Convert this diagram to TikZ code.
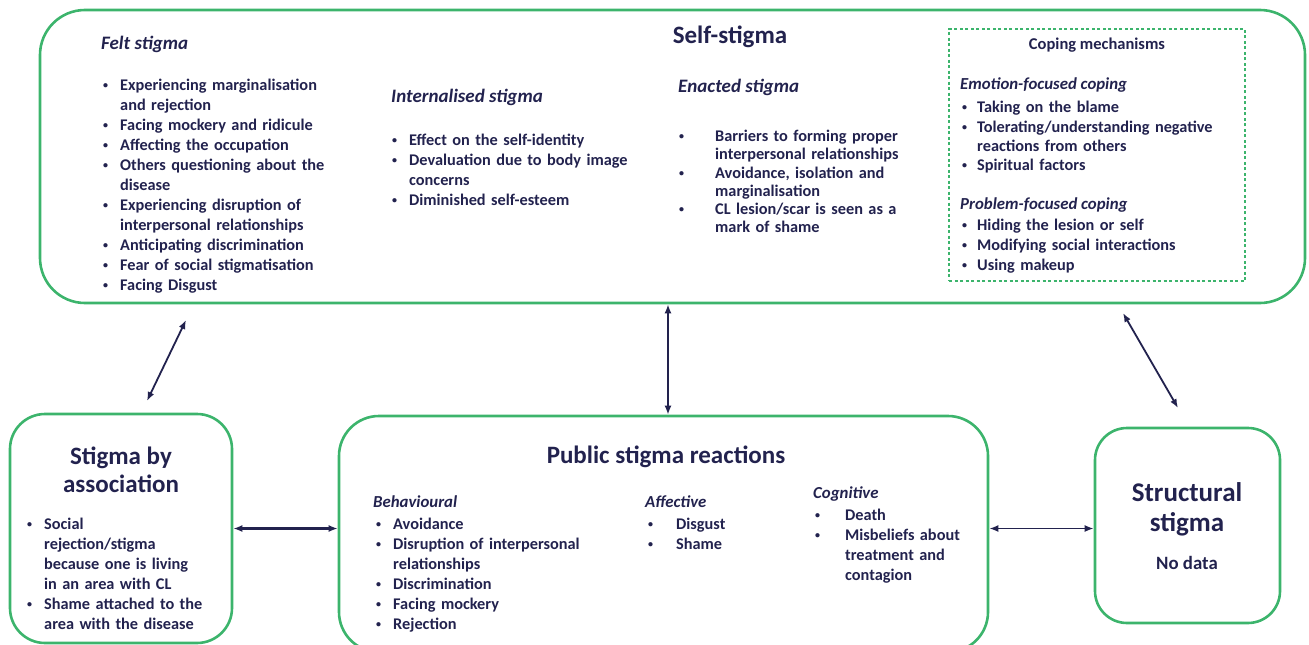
\documentclass[tikz,border=0pt]{standalone}
\usepackage{fontspec}
\setmainfont{Carlito}
\usetikzlibrary{arrows.meta}

\definecolor{ink}{HTML}{22224E}
\definecolor{grn}{HTML}{3CB46C}

% bullet line with hanging indent
\newcommand{\bul}[2][17pt]{\hangindent=#1\hangafter=1\noindent\makebox[#1][l]{\raisebox{0.12em}{\fontsize{10}{10}\selectfont\textbullet}}#2\par}

\tikzset{
  frame/.style={draw=grn, line width=2.6pt, rounded corners=#1, inner sep=0pt},
  copebox/.style={draw=grn, line width=1.2pt, dash pattern=on 3pt off 2.5pt, inner sep=0pt},
  ttl/.style={font=\bfseries\fontsize{25}{28}\selectfont, text=ink, align=center, inner sep=0pt},
  hd/.style={font=\bfseries\itshape\fontsize{19}{22}\selectfont, text=ink, anchor=west, inner sep=0pt},
  hdsmall/.style={font=\bfseries\itshape\fontsize{16.8}{20}\selectfont, text=ink, anchor=west, inner sep=0pt},
  lst/.style={font=\bfseries\fontsize{16.3}{#1}\selectfont, text=ink, align=left, text width=320pt,
    anchor=north west, inner sep=0pt},
  lst/.default=20,
  link/.style={{Latex[length=9pt,width=7pt]}-{Latex[length=9pt,width=7pt]}, draw=ink, line width=1.8pt}
}

\begin{document}
\begin{tikzpicture}[x=1pt,y=-1pt]
  \useasboundingbox (0,0) rectangle (1309,645);

  % boxes
  \node[frame=45pt, minimum width=1265pt, minimum height=293pt] (self) at (672.5,156.5) {};
  \node[copebox, minimum width=296pt, minimum height=252pt] (cope) at (1097,155) {};
  \node[frame=35pt, minimum width=222pt, minimum height=229pt] (assoc) at (121,528.5) {};
  \node[frame=40pt, minimum width=649pt, minimum height=236pt] (public) at (663.5,534) {};
  \node[frame=32pt, minimum width=185pt, minimum height=195pt] (struct) at (1187.5,525.5) {};

  % self-stigma
  \node[ttl] (selft) at (730,37) {Self-stigma};
  \node[hd] (felth) at (101,44) {Felt stigma};
  \node[lst] (feltl) at (103,78.5) {%
    \bul{Experiencing marginalisation\newline and rejection}
    \bul{Facing mockery and ridicule}
    \bul{Affecting the occupation}
    \bul{Others questioning about the\newline disease}
    \bul{Experiencing disruption of\newline interpersonal relationships}
    \bul{Anticipating discrimination}
    \bul{Fear of social stigmatisation}
    \bul{Facing Disgust}};
  \node[hd] (inth) at (391,97) {Internalised stigma};
  \node[lst] (intl) at (392,134) {%
    \bul{Effect on the self-identity}
    \bul{Devaluation due to body image\newline concerns}
    \bul{Diminished self-esteem}};
  \node[hd] (enah) at (678,87) {Enacted stigma};
  \node[lst=18.2] (enal) at (679,130) {%
    \bul[36pt]{Barriers to forming proper\newline interpersonal relationships}
    \bul[36pt]{Avoidance, isolation and\newline marginalisation}
    \bul[36pt]{CL lesion/scar is seen as a\newline mark of shame}};

  % coping mechanisms
  \node[font=\bfseries\fontsize{16.5}{20}\selectfont, text=ink, inner sep=0pt] (copet) at (1097,45) {Coping mechanisms};
  \node[hdsmall] (emoh) at (960,85) {Emotion-focused coping};
  \node[lst=19.4] (emol) at (962,101) {%
    \bul[15pt]{Taking on the blame}
    \bul[15pt]{Tolerating/understanding negative\newline reactions from others}
    \bul[15pt]{Spiritual factors}};
  \node[hdsmall] (probh) at (960,205) {Problem-focused coping};
  \node[lst] (probl) at (962,219) {%
    \bul[15pt]{Hiding the lesion or self}
    \bul[15pt]{Modifying social interactions}
    \bul[15pt]{Using makeup}};

  % stigma by association
  \node[ttl] (assoct) at (121,469.5) {Stigma by\\association};
  \node[lst] (assocl) at (27,518) {%
    \bul{Social\newline rejection/stigma\newline because one is living\newline in an area with CL}
    \bul{Shame attached to the\newline area with the disease}};

  % public stigma reactions
  \node[ttl] (publict) at (666,457) {Public stigma reactions};
  \node[hdsmall] (behh) at (373,502) {Behavioural};
  \node[lst] (behl) at (376,518) {%
    \bul{Avoidance}
    \bul{Disruption of interpersonal\newline relationships}
    \bul{Discrimination}
    \bul{Facing mockery}
    \bul{Rejection}};
  \node[hdsmall] (affh) at (645,502) {Affective};
  \node[lst] (affl) at (648,518) {%
    \bul[28pt]{Disgust}
    \bul[28pt]{Shame}};
  \node[hdsmall] (cogh) at (813,494) {Cognitive};
  \node[lst] (cogl) at (815,509) {%
    \bul[30pt]{Death}
    \bul[30pt]{Misbeliefs about\newline treatment and\newline contagion}};

  % structural stigma
  \node[ttl, font=\bfseries\fontsize{27}{30}\selectfont] (structt) at (1187,509.5) {Structural\\stigma};
  \node[font=\bfseries\fontsize{18.8}{22}\selectfont, text=ink, inner sep=0pt] (nodata) at (1187,563) {No data};

  % connectors
  \coordinate (feltend) at (186,320);
  \coordinate (assocend) at (147,401);
  \coordinate (copeend) at (1123,313);
  \coordinate (structend) at (1178,408);
  \draw[link] (assocend) -- (feltend);
  \draw[link] ([xshift=-4.5pt]self.south) -- ([xshift=-4.5pt]self.south |- public.north);
  \draw[link] (copeend) -- (structend);
  \draw[link, line width=3pt] (assoc.east) -- (assoc.east -| public.west);
  \draw[link] (public.east |- assoc.east) -- (struct.west |- assoc.east);
\end{tikzpicture}
\end{document}
